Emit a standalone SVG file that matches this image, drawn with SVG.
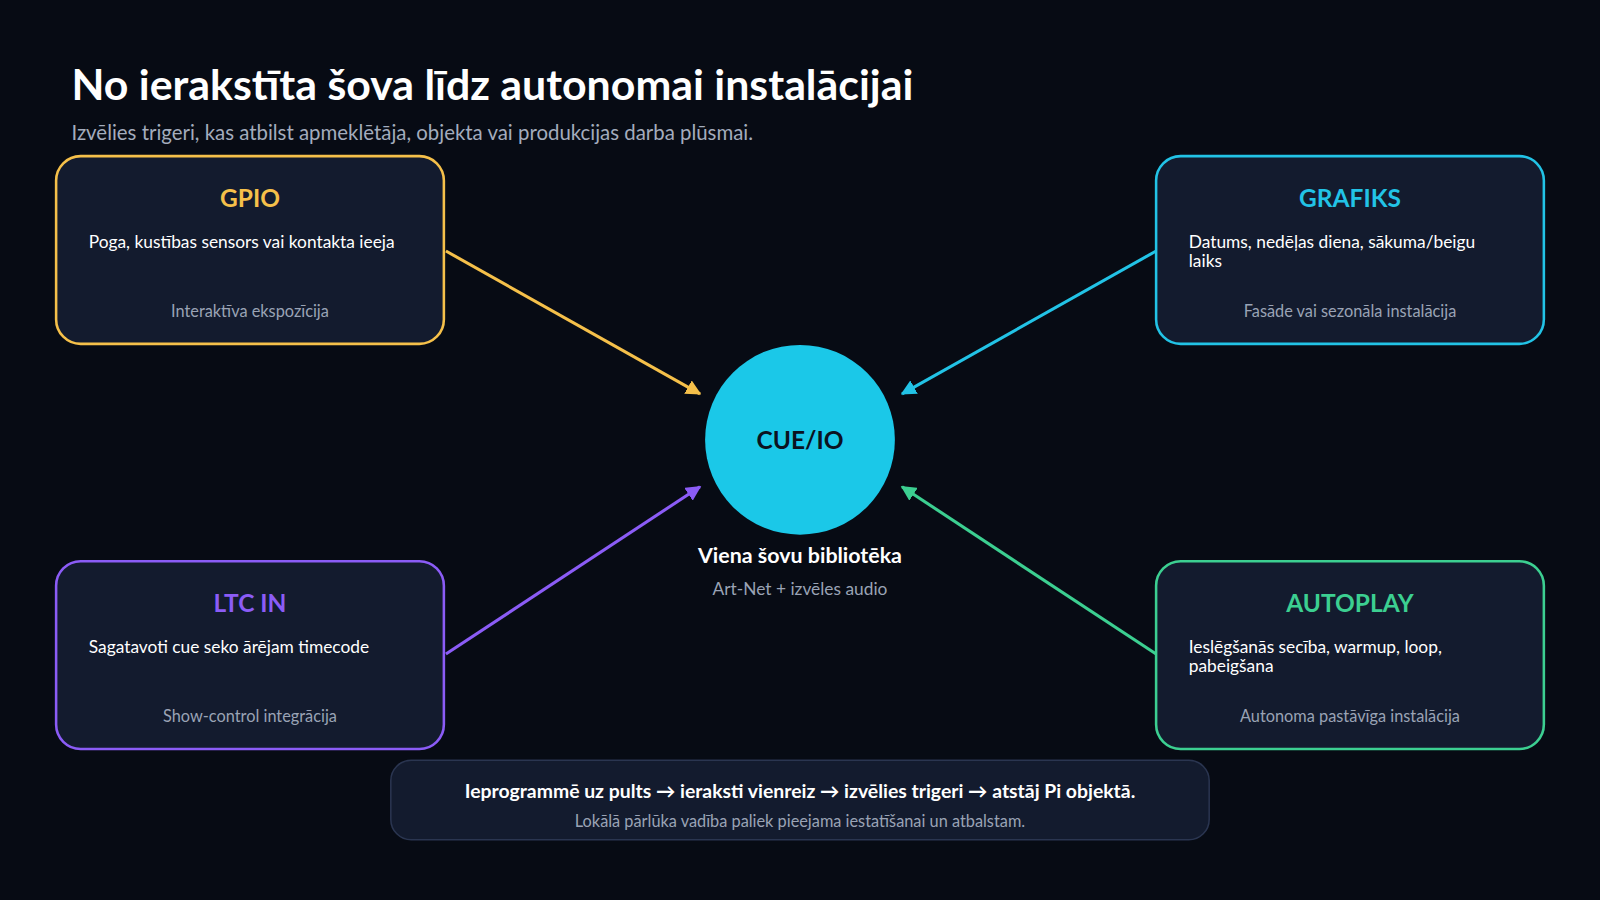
<svg xmlns="http://www.w3.org/2000/svg" width="1600" height="900" viewBox="0 0 1600 900">
<defs>
<style>
text{font-family:Lato,"Noto Sans","Liberation Sans",sans-serif}
.box{fill:#131b2e;stroke-width:2.5}
.h{font-size:24px;font-weight:700;text-anchor:middle}
.d{font-size:17px;fill:#ffffff}
.f{font-size:16px;fill:#9aa3b5;text-anchor:middle}
.c{stroke-width:3;fill:none}
</style>
<marker id="ay" viewBox="0 0 10 10" refX="9" refY="5" markerWidth="5" markerHeight="5" orient="auto"><path d="M0 0L10 5L0 10z" fill="#f5c04a"/></marker>
<marker id="ab" viewBox="0 0 10 10" refX="9" refY="5" markerWidth="5" markerHeight="5" orient="auto"><path d="M0 0L10 5L0 10z" fill="#22c3e6"/></marker>
<marker id="ap" viewBox="0 0 10 10" refX="9" refY="5" markerWidth="5" markerHeight="5" orient="auto"><path d="M0 0L10 5L0 10z" fill="#8b5cf6"/></marker>
<marker id="ag" viewBox="0 0 10 10" refX="9" refY="5" markerWidth="5" markerHeight="5" orient="auto"><path d="M0 0L10 5L0 10z" fill="#3ccf91"/></marker>
</defs>
<rect width="1600" height="900" fill="#070b14"/>
<g transform="scale(1.0204)">
<text x="70" y="98" font-size="42" font-weight="700" fill="#ffffff">No ierakstīta šova līdz autonomai instalācijai</text>
<text x="70" y="137" font-size="20" fill="#a3acbd">Izvēlies trigeri, kas atbilst apmeklētāja, objekta vai produkcijas darba plūsmai.</text>
<g id="connectors">
<line class="c" x1="437" y1="246" x2="686" y2="386" stroke="#f5c04a" marker-end="url(#ay)"/>
<line class="c" x1="1133" y1="246" x2="884" y2="386" stroke="#22c3e6" marker-end="url(#ab)"/>
<line class="c" x1="437" y1="641" x2="686" y2="477" stroke="#8b5cf6" marker-end="url(#ap)"/>
<line class="c" x1="1133" y1="641" x2="884" y2="477" stroke="#3ccf91" marker-end="url(#ag)"/>
</g>
<g id="gpio">
<rect class="box" x="55" y="153" width="380" height="184" rx="24" stroke="#f5c04a"/>
<text class="h" x="245" y="203" fill="#f5c04a">GPIO</text>
<text class="d" x="87" y="243">Poga, kustības sensors vai kontakta ieeja</text>
<text class="f" x="245" y="311">Interaktīva ekspozīcija</text>
</g>
<g id="grafiks">
<rect class="box" x="1133" y="153" width="380" height="184" rx="24" stroke="#22c3e6"/>
<text class="h" x="1323" y="203" fill="#22c3e6">GRAFIKS</text>
<text class="d" x="1165" y="243">Datums, nedēļas diena, sākuma/beigu</text>
<text class="d" x="1165" y="262">laiks</text>
<text class="f" x="1323" y="311">Fasāde vai sezonāla instalācija</text>
</g>
<g id="ltc">
<rect class="box" x="55" y="550" width="380" height="184" rx="24" stroke="#8b5cf6"/>
<text class="h" x="245" y="600" fill="#8b5cf6">LTC IN</text>
<text class="d" x="87" y="640">Sagatavoti cue seko ārējam timecode</text>
<text class="f" x="245" y="708">Show-control integrācija</text>
</g>
<g id="autoplay">
<rect class="box" x="1133" y="550" width="380" height="184" rx="24" stroke="#3ccf91"/>
<text class="h" x="1323" y="600" fill="#3ccf91">AUTOPLAY</text>
<text class="d" x="1165" y="640">Ieslēgšanās secība, warmup, loop,</text>
<text class="d" x="1165" y="659">pabeigšana</text>
<text class="f" x="1323" y="708">Autonoma pastāvīga instalācija</text>
</g>
<g id="cue">
<circle cx="784" cy="431" r="93" fill="#1bc8e8"/>
<text x="784" y="440" font-size="24" font-weight="700" fill="#0b1220" text-anchor="middle">CUE/IO</text>
<text x="784" y="552" font-size="21" font-weight="700" fill="#ffffff" text-anchor="middle">Viena šovu bibliotēka</text>
<text x="784" y="583" font-size="17" fill="#9aa3b5" text-anchor="middle">Art-Net + izvēles audio</text>
</g>
<g id="footer">
<rect x="383" y="745" width="802" height="78" rx="20" fill="#131b2e" stroke="#2a3550" stroke-width="1.5"/>
<text x="784" y="782" font-size="19" font-weight="700" fill="#ffffff" text-anchor="middle">Ieprogrammē uz pults → ieraksti vienreiz → izvēlies trigeri → atstāj Pi objektā.</text>
<text x="784" y="810" font-size="16" fill="#9aa3b5" text-anchor="middle">Lokālā pārlūka vadība paliek pieejama iestatīšanai un atbalstam.</text>
</g>
</g>
</svg>
